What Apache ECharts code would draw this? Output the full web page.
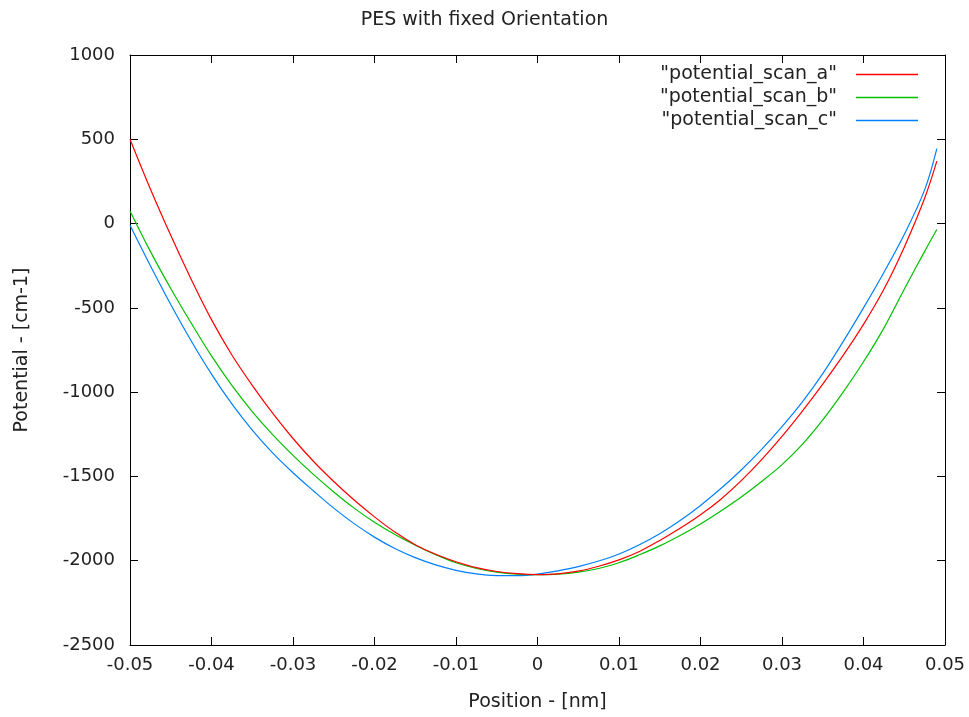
<!DOCTYPE html>
<html>
<head>
<meta charset="utf-8">
<script src="https://cdn.jsdelivr.net/npm/echarts@6/dist/echarts.min.js"></script>
<style>
html,body{margin:0;padding:0;background:#fff;}
#chart{width:969px;height:717px;}
</style>
</head>
<body>
<div id="chart"></div>
<script>
const positions = [-0.05,-0.0475,-0.045,-0.0425,-0.04,-0.0375,-0.035,-0.0325,-0.03,-0.0275,-0.025,-0.0225,-0.02,-0.0175,-0.015,-0.0125,-0.01,-0.0075,-0.005,-0.0025,0,0.0025,0.005,0.0075,0.01,0.0125,0.015,0.0175,0.02,0.0225,0.025,0.0275,0.03,0.0325,0.035,0.0375,0.04,0.0425,0.045,0.0475,0.049];
const scanA = [500,205,-70,-330,-570,-780,-960,-1125,-1275,-1410,-1530,-1640,-1740,-1830,-1905,-1962,-2006,-2041,-2064,-2077,-2082,-2078,-2062,-2033,-1995,-1945,-1880,-1808,-1728,-1635,-1525,-1400,-1262,-1112,-952,-782,-598,-390,-140,150,370];
const scanB = [75,-165,-385,-590,-785,-960,-1115,-1252,-1375,-1488,-1592,-1688,-1772,-1845,-1908,-1964,-2012,-2046,-2068,-2080,-2083,-2080,-2068,-2046,-2012,-1965,-1912,-1850,-1782,-1705,-1622,-1530,-1430,-1310,-1165,-1000,-820,-620,-390,-165,-35];
const scanC = [-10,-250,-480,-695,-893,-1070,-1225,-1360,-1478,-1585,-1688,-1780,-1860,-1928,-1982,-2025,-2057,-2078,-2088,-2089,-2080,-2060,-2035,-2002,-1960,-1905,-1840,-1762,-1672,-1572,-1462,-1340,-1205,-1058,-890,-700,-500,-290,-65,200,445];
const xTicks = [-0.05,-0.04,-0.03,-0.02,-0.01,0,0.01,0.02,0.03,0.04,0.05];
const yTicks = [-2500,-2000,-1500,-1000,-500,0,500,1000];
const seriesNames = ['"potential_scan_a"', '"potential_scan_b"', '"potential_scan_c"'];
const seriesColors = ['#ff0000', '#00c000', '#0080ff'];
const title = 'PES with fixed Orientation';
const xTitle = 'Position - [nm]';
const yTitle = 'Potential - [cm-1]';

const font = 'DejaVu Sans';
const txt = '#222';
const pair = ys => positions.map((x, i) => [x, ys[i]]);
const allData = [scanA, scanB, scanC];
const xMin = xTicks[0], xMax = xTicks[xTicks.length - 1], xStep = 0.01;
const yMin = yTicks[0], yMax = yTicks[yTicks.length - 1], yStep = 500;

const chart = echarts.init(document.getElementById('chart'), null, {renderer: 'canvas'});
const axisCommon = {
  type: 'value',
  axisLine: {show: true, onZero: false, lineStyle: {color: '#000', width: 1}},
  axisTick: {show: true, inside: true, length: 8, lineStyle: {color: '#000'}},
  splitLine: {show: false}
};
chart.setOption({
  animation: false,
  backgroundColor: '#fff',
  title: {text: title, left: 'center', top: 6, textStyle: {fontFamily: font, fontSize: 19, fontWeight: 'normal', color: txt}},
  legend: {
    orient: 'vertical', right: 46, top: 60, align: 'right', itemGap: 4,
    itemWidth: 62, itemHeight: 18,
    icon: 'path://M0,0 L62,0 L62,1.5 L0,1.5 Z',
    textStyle: {fontFamily: font, fontSize: 19, color: txt, padding: [0, 14, 0, 0]},
    data: seriesNames.map((n, i) => ({name: n, itemStyle: {color: seriesColors[i]}}))
  },
  grid: {left: 130, right: 24, top: 55, bottom: 70},
  xAxis: [
    Object.assign({}, axisCommon, {
      position: 'bottom', min: xMin, max: xMax, interval: xStep,
      name: xTitle, nameLocation: 'middle', nameGap: 48,
      nameTextStyle: {fontFamily: font, fontSize: 19, color: txt},
      axisLabel: {fontFamily: font, fontSize: 18, color: txt, margin: 11,
        formatter: v => String(parseFloat(v.toFixed(3)))}
    }),
    Object.assign({}, axisCommon, {
      position: 'top', min: xMin, max: xMax, interval: xStep, axisLabel: {show: false}
    })
  ],
  yAxis: [
    Object.assign({}, axisCommon, {
      position: 'left', min: yMin, max: yMax, interval: yStep,
      name: yTitle, nameLocation: 'middle', nameGap: 98, nameRotate: 90,
      nameTextStyle: {fontFamily: font, fontSize: 19, color: txt},
      axisLabel: {fontFamily: font, fontSize: 18, color: txt, margin: 15,
        formatter: v => String(v)}
    }),
    Object.assign({}, axisCommon, {
      position: 'right', min: yMin, max: yMax, interval: yStep, axisLabel: {show: false}
    })
  ],
  series: seriesNames.map((n, i) => ({
    name: n, type: 'line', data: pair(allData[i]), showSymbol: false, symbol: 'none',
    smooth: 0.35,
    lineStyle: {width: 1.2, color: seriesColors[i]}, itemStyle: {color: seriesColors[i]},
    xAxisIndex: 0, yAxisIndex: 0, z: 3 - i
  }))
});
</script>
</body>
</html>
